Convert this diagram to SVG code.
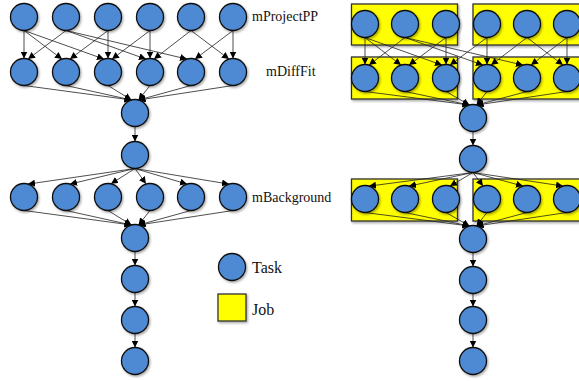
<svg xmlns="http://www.w3.org/2000/svg" width="579" height="381" viewBox="0 0 579 381">
<style>
.t{fill:#4e8ad3;stroke:#111;stroke-width:1.3;filter:url(#sh)}
.j{fill:#ffff00;stroke:#333;stroke-width:1.3;filter:url(#sh)}
.e{fill:none;stroke:#222;stroke-width:0.8;marker-end:url(#ah)}
.lbl{font-family:"Liberation Serif","Times New Roman",serif;font-size:14px;fill:#111}
.leg{font-family:"Liberation Serif","Times New Roman",serif;font-size:16px;fill:#111}
</style>
<defs>
<filter id="sh" x="-30%" y="-30%" width="160%" height="160%">
<feDropShadow dx="1.2" dy="1.5" stdDeviation="1" flood-color="#000" flood-opacity="0.35"/>
</filter>
<marker id="ah" viewBox="0 0 8 8" refX="8" refY="4" markerWidth="7" markerHeight="7" markerUnits="userSpaceOnUse" orient="auto">
<path d="M0,0 L8,4 L0,8 Z" fill="#000"/>
</marker>
</defs>
<rect width="579" height="381" fill="#fff"/>

<g id="jobs">
<g id="job-r1a"><rect class="j" x="351.5" y="4" width="106" height="41"/></g>
<g id="job-r1b"><rect class="j" x="473" y="4" width="108" height="41"/></g>
<g id="job-r2a"><rect class="j" x="351.5" y="57" width="106" height="42"/></g>
<g id="job-r2b"><rect class="j" x="473" y="57" width="108" height="42"/></g>
<g id="job-r5a"><rect class="j" x="351.5" y="179" width="106" height="42"/></g>
<g id="job-r5b"><rect class="j" x="473" y="179" width="108" height="42"/></g>
</g>

<g id="connectors">
<!-- left: mProjectPP -> mDiffFit -->
<path class="e" d="M24,30.5 L24,58.5"/>
<path class="e" d="M24,30.5 L62,59.1"/>
<path class="e" d="M24,30.5 L104,59.1"/>
<path class="e" d="M66,30.5 L28,59.1"/>
<path class="e" d="M66,30.5 L146,59.1"/>
<path class="e" d="M66,30.5 L187,59.1"/>
<path class="e" d="M108,30.5 L70,59.1"/>
<path class="e" d="M108,30.5 L108,58.5"/>
<path class="e" d="M150,30.5 L112,59.1"/>
<path class="e" d="M150,30.5 L150,58.5"/>
<path class="e" d="M191,30.5 L154,59.1"/>
<path class="e" d="M191,30.5 L229,59.1"/>
<path class="e" d="M233,30.5 L195,59.1"/>
<path class="e" d="M233,30.5 L233,58.5"/>
<!-- left: mDiffFit -> concat -->
<path class="e" d="M24,85.5 L131.5,100"/>
<path class="e" d="M66,85.5 L131.5,100"/>
<path class="e" d="M108,85.5 L131.5,100"/>
<path class="e" d="M150,85.5 L138.5,100"/>
<path class="e" d="M191,85.5 L138.5,100"/>
<path class="e" d="M233,85.5 L138.5,100"/>
<path class="e" d="M135,126.5 L135,141.5"/>
<!-- left: fan out to mBackground -->
<path class="e" d="M135,168.5 L28,184.1"/>
<path class="e" d="M135,168.5 L70,184.1"/>
<path class="e" d="M135,168.5 L111,183.8"/>
<path class="e" d="M135,168.5 L146,183.8"/>
<path class="e" d="M135,168.5 L187,184.1"/>
<path class="e" d="M135,168.5 L229,184.1"/>
<!-- left: mBackground -> merge -->
<path class="e" d="M24,210.5 L131.5,225"/>
<path class="e" d="M66,210.5 L131.5,225"/>
<path class="e" d="M108,210.5 L131.5,225"/>
<path class="e" d="M150,210.5 L138.5,225"/>
<path class="e" d="M191,210.5 L138.5,225"/>
<path class="e" d="M233,210.5 L138.5,225"/>
<path class="e" d="M135,251.5 L135,265.5"/>
<path class="e" d="M135,292.5 L135,306.5"/>
<path class="e" d="M135,333.5 L135,347.5"/>

<!-- right -->
<path class="e" d="M365,37.5 L365,64.5"/>
<path class="e" d="M365,37.5 L401,65.1"/>
<path class="e" d="M365,37.5 L442,65.1"/>
<path class="e" d="M405,37.5 L369,65.1"/>
<path class="e" d="M405,37.5 L483,65.1"/>
<path class="e" d="M405,37.5 L523,65.1"/>
<path class="e" d="M446,37.5 L409,65.1"/>
<path class="e" d="M446,37.5 L446,64.5"/>
<path class="e" d="M487,37.5 L450,65.1"/>
<path class="e" d="M487,37.5 L487,64.5"/>
<path class="e" d="M527,37.5 L491,65.1"/>
<path class="e" d="M527,37.5 L563,65.1"/>
<path class="e" d="M567,37.5 L531,65.1"/>
<path class="e" d="M567,37.5 L567,64.5"/>
<path class="e" d="M365,91.5 L469.5,105"/>
<path class="e" d="M405,91.5 L469.5,105"/>
<path class="e" d="M446,91.5 L469.5,105"/>
<path class="e" d="M487,91.5 L476.5,105"/>
<path class="e" d="M527,91.5 L476.5,105"/>
<path class="e" d="M567,91.5 L476.5,105"/>
<path class="e" d="M473,131.5 L473,145.5"/>
<path class="e" d="M473,172.5 L369,186.1"/>
<path class="e" d="M473,172.5 L409,186.1"/>
<path class="e" d="M473,172.5 L450,186.1"/>
<path class="e" d="M473,172.5 L483,186.1"/>
<path class="e" d="M473,172.5 L523,186.1"/>
<path class="e" d="M473,172.5 L563,186.1"/>
<path class="e" d="M365,212.5 L469.5,226"/>
<path class="e" d="M405,212.5 L469.5,226"/>
<path class="e" d="M446,212.5 L469.5,226"/>
<path class="e" d="M487,212.5 L476.5,226"/>
<path class="e" d="M527,212.5 L476.5,226"/>
<path class="e" d="M567,212.5 L476.5,226"/>
<path class="e" d="M473,252.5 L473,266.5"/>
<path class="e" d="M473,293.5 L473,306.5"/>
<path class="e" d="M473,333.5 L473,347.5"/>
</g>

<g id="left-nodes">
<g id="L-p1"><circle class="t" cx="24" cy="17" r="13.5"/></g>
<g id="L-p2"><circle class="t" cx="66" cy="17" r="13.5"/></g>
<g id="L-p3"><circle class="t" cx="108" cy="17" r="13.5"/></g>
<g id="L-p4"><circle class="t" cx="150" cy="17" r="13.5"/></g>
<g id="L-p5"><circle class="t" cx="191" cy="17" r="13.5"/></g>
<g id="L-p6"><circle class="t" cx="233" cy="17" r="13.5"/></g>
<g id="L-d1"><circle class="t" cx="24" cy="72" r="13.5"/></g>
<g id="L-d2"><circle class="t" cx="66" cy="72" r="13.5"/></g>
<g id="L-d3"><circle class="t" cx="108" cy="72" r="13.5"/></g>
<g id="L-d4"><circle class="t" cx="150" cy="72" r="13.5"/></g>
<g id="L-d5"><circle class="t" cx="191" cy="72" r="13.5"/></g>
<g id="L-d6"><circle class="t" cx="233" cy="72" r="13.5"/></g>
<g id="L-c1"><circle class="t" cx="135" cy="113" r="13.5"/></g>
<g id="L-c2"><circle class="t" cx="135" cy="155" r="13.5"/></g>
<g id="L-b1"><circle class="t" cx="24" cy="197" r="13.5"/></g>
<g id="L-b2"><circle class="t" cx="66" cy="197" r="13.5"/></g>
<g id="L-b3"><circle class="t" cx="108" cy="197" r="13.5"/></g>
<g id="L-b4"><circle class="t" cx="150" cy="197" r="13.5"/></g>
<g id="L-b5"><circle class="t" cx="191" cy="197" r="13.5"/></g>
<g id="L-b6"><circle class="t" cx="233" cy="197" r="13.5"/></g>
<g id="L-m1"><circle class="t" cx="135" cy="238" r="13.5"/></g>
<g id="L-m2"><circle class="t" cx="135" cy="279" r="13.5"/></g>
<g id="L-m3"><circle class="t" cx="135" cy="320" r="13.5"/></g>
<g id="L-m4"><circle class="t" cx="135" cy="361" r="13.5"/></g>
</g>

<g id="right-nodes">
<g id="R-p1"><circle class="t" cx="365" cy="24" r="13.5"/></g>
<g id="R-p2"><circle class="t" cx="405" cy="24" r="13.5"/></g>
<g id="R-p3"><circle class="t" cx="446" cy="24" r="13.5"/></g>
<g id="R-p4"><circle class="t" cx="487" cy="24" r="13.5"/></g>
<g id="R-p5"><circle class="t" cx="527" cy="24" r="13.5"/></g>
<g id="R-p6"><circle class="t" cx="567" cy="24" r="13.5"/></g>
<g id="R-d1"><circle class="t" cx="365" cy="78" r="13.5"/></g>
<g id="R-d2"><circle class="t" cx="405" cy="78" r="13.5"/></g>
<g id="R-d3"><circle class="t" cx="446" cy="78" r="13.5"/></g>
<g id="R-d4"><circle class="t" cx="487" cy="78" r="13.5"/></g>
<g id="R-d5"><circle class="t" cx="527" cy="78" r="13.5"/></g>
<g id="R-d6"><circle class="t" cx="567" cy="78" r="13.5"/></g>
<g id="R-c1"><circle class="t" cx="473" cy="118" r="13.5"/></g>
<g id="R-c2"><circle class="t" cx="473" cy="159" r="13.5"/></g>
<g id="R-b1"><circle class="t" cx="365" cy="199" r="13.5"/></g>
<g id="R-b2"><circle class="t" cx="405" cy="199" r="13.5"/></g>
<g id="R-b3"><circle class="t" cx="446" cy="199" r="13.5"/></g>
<g id="R-b4"><circle class="t" cx="487" cy="199" r="13.5"/></g>
<g id="R-b5"><circle class="t" cx="527" cy="199" r="13.5"/></g>
<g id="R-b6"><circle class="t" cx="567" cy="199" r="13.5"/></g>
<g id="R-m1"><circle class="t" cx="473" cy="239" r="13.5"/></g>
<g id="R-m2"><circle class="t" cx="473" cy="280" r="13.5"/></g>
<g id="R-m3"><circle class="t" cx="473" cy="320" r="13.5"/></g>
<g id="R-m4"><circle class="t" cx="473" cy="361" r="13.5"/></g>
</g>

<g id="labels">
<text class="lbl" x="252" y="21">mProjectPP</text>
<text class="lbl" x="266" y="76">mDiffFit</text>
<text class="lbl" x="252" y="202">mBackground</text>
</g>

<g id="legend">
<g id="legend-task"><circle class="t" cx="232" cy="267" r="13.5"/><text class="leg" x="252" y="273">Task</text></g>
<g id="legend-job"><rect class="j" x="218" y="294" width="28" height="27"/><text class="leg" x="252" y="315">Job</text></g>
</g>
</svg>
